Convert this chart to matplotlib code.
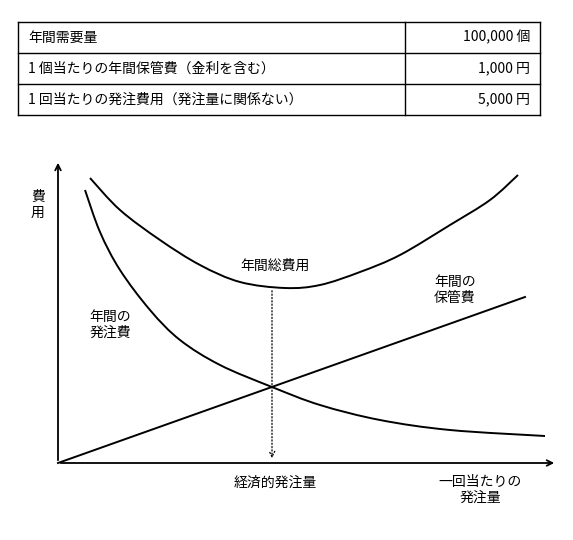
import matplotlib.pyplot as plt
from matplotlib.path import Path
from matplotlib.patches import PathPatch

plt.rcParams['font.family'] = ['Noto Sans CJK JP', 'DejaVu Sans']

table_left = ["年間需要量", "1 個当たりの年間保管費（金利を含む）", "1 回当たりの発注費用（発注量に関係ない）"]
table_right = ["100,000 個", "1,000 円", "5,000 円"]

# curves (x from origin, height above axis, in px)
order_x = [27, 42, 62, 92, 122, 162, 214, 262, 322, 392, 487]
order_y = [273, 231, 193, 153, 123, 98, 76, 58, 43, 33, 27]
total_x = [32, 62, 102, 142, 182, 227, 262, 302, 342, 392, 432, 460]
total_y = [285, 253, 223, 198, 181, 175, 178, 191, 208, 238, 263, 288]
hold_x = [0, 467]
hold_y = [0, 166]
eoq_x = 214

fig = plt.figure(figsize=(5.73, 5.40), dpi=100)
ax = fig.add_axes([0, 0, 1, 1])
ax.set_xlim(0, 573)
ax.set_ylim(540, 0)
ax.axis('off')

# table
top, rh, l, r, mid = 22, 31, 18, 540, 405
for i in range(4):
    ax.plot([l, r], [top + i * rh] * 2, color='k', lw=1)
for xx in (l, mid, r):
    ax.plot([xx, xx], [top, top + 3 * rh], color='k', lw=1)
for i, (a, b) in enumerate(zip(table_left, table_right)):
    yc = top + rh * i + rh / 2
    ax.text(28, yc, a, va='center', ha='left', fontsize=10)
    ax.text(530, yc, b, va='center', ha='right', fontsize=10)

ox, oy = 58, 463
def X(v): return [ox + t for t in v]
def Y(v): return [oy - t for t in v]

def smooth(xs, ys):
    # Catmull-Rom through the read points, drawn as cubic Bezier segments
    p = list(zip(xs, ys))
    verts, codes = [p[0]], [Path.MOVETO]
    for i in range(len(p) - 1):
        p0 = p[max(i - 1, 0)]; p1 = p[i]; p2 = p[i + 1]; p3 = p[min(i + 2, len(p) - 1)]
        c1 = (p1[0] + (p2[0] - p0[0]) / 6, p1[1] + (p2[1] - p0[1]) / 6)
        c2 = (p2[0] - (p3[0] - p1[0]) / 6, p2[1] - (p3[1] - p1[1]) / 6)
        verts += [c1, c2, p2]
        codes += [Path.CURVE4] * 3
    ax.add_patch(PathPatch(Path(verts, codes), fill=False, lw=1.4, ec='k'))

ax.annotate('', xy=(557, oy), xytext=(ox, oy),
            arrowprops=dict(arrowstyle='->', lw=1.3, color='k'))
ax.annotate('', xy=(ox, 160), xytext=(ox, oy),
            arrowprops=dict(arrowstyle='->', lw=1.3, color='k'))

smooth(X(order_x), Y(order_y))
smooth(X(total_x), Y(total_y))
ax.plot(X(hold_x), Y(hold_y), color='k', lw=1.4)
ax.annotate('', xy=(ox + eoq_x, oy - 2), xytext=(ox + eoq_x, 288),
            arrowprops=dict(arrowstyle='->', lw=0.9, color='k', linestyle=':'))

ax.text(38, 205, "費\n用", ha='center', va='center', fontsize=10, linespacing=1.2)
ax.text(275, 266, "年間総費用", ha='center', va='center', fontsize=10)
ax.text(110, 325, "年間の\n発注費", ha='center', va='center', fontsize=10)
ax.text(455, 290, "年間の\n保管費", ha='center', va='center', fontsize=10)
ax.text(275, 483, "経済的発注量", ha='center', va='center', fontsize=10)
ax.text(480, 490, "一回当たりの\n発注量", ha='center', va='center', fontsize=10)

fig.savefig('out.png', dpi=100)
